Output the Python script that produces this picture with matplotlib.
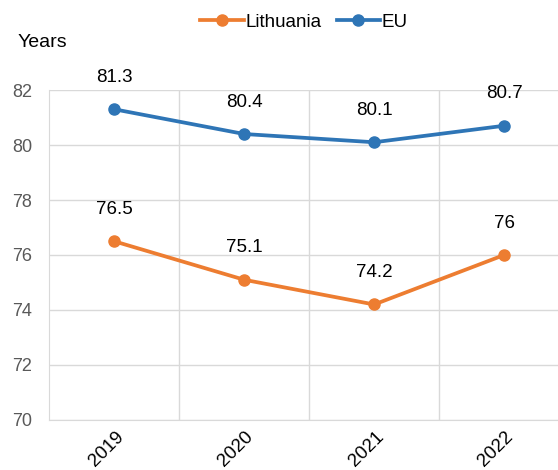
import matplotlib.pyplot as plt
import matplotlib.transforms as mtransforms
import numpy as np

plt.rcParams['font.family'] = ['Liberation Sans', 'DejaVu Sans']

years = ['2019', '2020', '2021', '2022']
lithuania = [76.5, 75.1, 74.2, 76.0]
eu = [81.3, 80.4, 80.1, 80.7]
lith_labels = ['76.5', '75.1', '74.2', '76']
eu_labels = ['81.3', '80.4', '80.1', '80.7']

orange = '#ED7D31'
blue = '#2E75B6'
grid_c = '#D9D9D9'

fig = plt.figure(figsize=(5.58, 4.70), dpi=100)
ax = fig.add_axes([0.088, 0.1064, 0.932, 0.7021])

x = np.arange(len(years))
ax.plot(x, lithuania, color=orange, lw=2.7, marker='o', ms=8, label='Lithuania')
ax.plot(x, eu, color=blue, lw=2.7, marker='o', ms=8, label='EU')

for xi, v, s in zip(x, lithuania, lith_labels):
    ax.annotate(s, (xi, v), xytext=(0, 23), textcoords='offset points',
                ha='center', va='center', fontsize=13.5)
for xi, v, s in zip(x, eu, eu_labels):
    ax.annotate(s, (xi, v), xytext=(0, 23), textcoords='offset points',
                ha='center', va='center', fontsize=13.5)

ax.set_xlim(-0.5, 3.5)
ax.set_ylim(70, 82)
ax.set_yticks(np.arange(70, 83, 2))
ax.set_xticks(x)
ax.set_xticklabels(years, rotation=45, ha='center', fontsize=13.5)
ax.set_xticks([0.5, 1.5, 2.5], minor=True)
ax.grid(axis='y', color=grid_c, lw=1)
ax.grid(axis='x', which='minor', color=grid_c, lw=1)
ax.set_axisbelow(True)
ax.tick_params(axis='y', length=0, labelcolor='#595959', labelsize=13, pad=12)
ax.tick_params(axis='x', which='both', length=0, pad=6)
shift = mtransforms.ScaledTranslation(-8 / 100, 0, fig.dpi_scale_trans)
for lab in ax.get_xticklabels():
    lab.set_transform(lab.get_transform() + shift)
for sp in ['top', 'right']:
    ax.spines[sp].set_visible(False)
for sp in ['left', 'bottom']:
    ax.spines[sp].set_color(grid_c)

fig.text(0.032, 0.91, 'Years', fontsize=14, ha='left', va='center')
fig.legend(loc='center', bbox_to_anchor=(0.545, 0.953), ncol=2, frameon=False,
           fontsize=13.5, handlelength=2.3, handletextpad=0.1, columnspacing=0.8)

fig.savefig('out.png', dpi=100)
